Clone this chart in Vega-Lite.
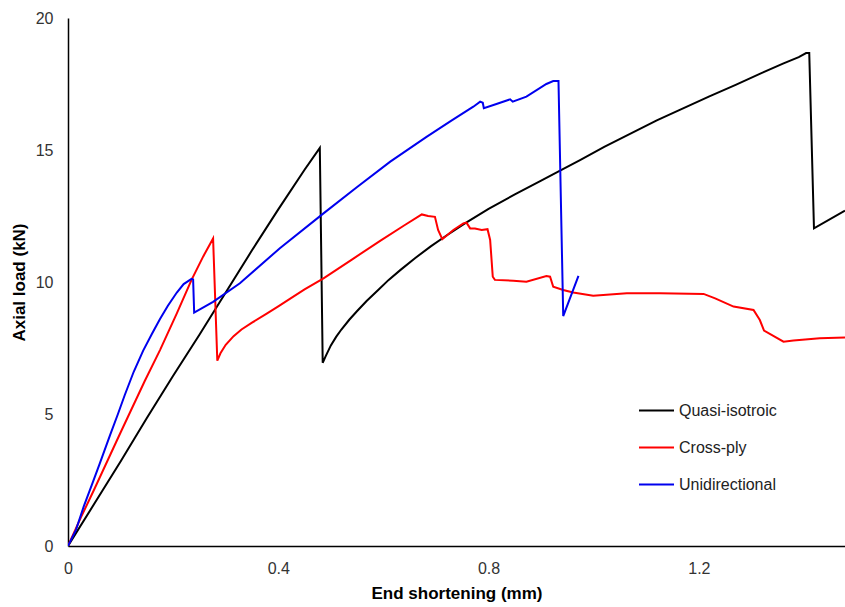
{
  "$schema": "https://vega.github.io/schema/vega-lite/v6.json",
  "width": 777,
  "height": 528,
  "autosize": {"type": "none"},
  "padding": {"left": 68, "top": 18, "right": 0, "bottom": 61},
  "background": "white",
  "config": {"view": {"stroke": null}, "font": "Liberation Sans"},
  "data": {
    "values": [
      {"series":"Quasi-isotroic","x":0,"y":0},{"series":"Quasi-isotroic","x":0.05,"y":1.6},{"series":"Quasi-isotroic","x":0.1,"y":3.2},{"series":"Quasi-isotroic","x":0.15,"y":4.85},{"series":"Quasi-isotroic","x":0.2,"y":6.45},{"series":"Quasi-isotroic","x":0.25,"y":8.0},{"series":"Quasi-isotroic","x":0.3,"y":9.6},{"series":"Quasi-isotroic","x":0.35,"y":11.2},{"series":"Quasi-isotroic","x":0.4,"y":12.75},{"series":"Quasi-isotroic","x":0.45,"y":14.25},{"series":"Quasi-isotroic","x":0.479,"y":15.08},
      {"series":"Quasi-isotroic","x":0.4845,"y":6.94},{"series":"Quasi-isotroic","x":0.49,"y":7.18},{"series":"Quasi-isotroic","x":0.5,"y":7.6},{"series":"Quasi-isotroic","x":0.51,"y":7.92},{"series":"Quasi-isotroic","x":0.52,"y":8.2},{"series":"Quasi-isotroic","x":0.535,"y":8.57},{"series":"Quasi-isotroic","x":0.55,"y":8.9},{"series":"Quasi-isotroic","x":0.568,"y":9.28},{"series":"Quasi-isotroic","x":0.59,"y":9.7},{"series":"Quasi-isotroic","x":0.61,"y":10.08},{"series":"Quasi-isotroic","x":0.632,"y":10.45},{"series":"Quasi-isotroic","x":0.66,"y":10.9},{"series":"Quasi-isotroic","x":0.69,"y":11.35},{"series":"Quasi-isotroic","x":0.72,"y":11.76},{"series":"Quasi-isotroic","x":0.755,"y":12.22},{"series":"Quasi-isotroic","x":0.8,"y":12.77},{"series":"Quasi-isotroic","x":0.85,"y":13.32},{"series":"Quasi-isotroic","x":0.9,"y":13.84},{"series":"Quasi-isotroic","x":0.936,"y":14.22},{"series":"Quasi-isotroic","x":0.974,"y":14.62},{"series":"Quasi-isotroic","x":1.02,"y":15.12},{"series":"Quasi-isotroic","x":1.07,"y":15.62},{"series":"Quasi-isotroic","x":1.12,"y":16.12},{"series":"Quasi-isotroic","x":1.17,"y":16.58},{"series":"Quasi-isotroic","x":1.22,"y":17.03},{"series":"Quasi-isotroic","x":1.27,"y":17.47},{"series":"Quasi-isotroic","x":1.32,"y":17.92},{"series":"Quasi-isotroic","x":1.36,"y":18.27},{"series":"Quasi-isotroic","x":1.39,"y":18.52},{"series":"Quasi-isotroic","x":1.404,"y":18.67},{"series":"Quasi-isotroic","x":1.41,"y":18.67},{"series":"Quasi-isotroic","x":1.419,"y":12.03},{"series":"Quasi-isotroic","x":1.478,"y":12.7},

      {"series":"Cross-ply","x":0,"y":0},{"series":"Cross-ply","x":0.025,"y":1.1},{"series":"Cross-ply","x":0.05,"y":2.15},{"series":"Cross-ply","x":0.1,"y":4.3},{"series":"Cross-ply","x":0.146,"y":6.25},{"series":"Cross-ply","x":0.175,"y":7.42},{"series":"Cross-ply","x":0.207,"y":8.81},{"series":"Cross-ply","x":0.235,"y":10.08},{"series":"Cross-ply","x":0.257,"y":10.96},{"series":"Cross-ply","x":0.276,"y":11.65},
      {"series":"Cross-ply","x":0.284,"y":7.02},{"series":"Cross-ply","x":0.29,"y":7.3},{"series":"Cross-ply","x":0.3,"y":7.62},{"series":"Cross-ply","x":0.315,"y":7.95},{"series":"Cross-ply","x":0.33,"y":8.2},{"series":"Cross-ply","x":0.35,"y":8.46},{"series":"Cross-ply","x":0.378,"y":8.8},{"series":"Cross-ply","x":0.4,"y":9.08},{"series":"Cross-ply","x":0.422,"y":9.36},{"series":"Cross-ply","x":0.45,"y":9.72},{"series":"Cross-ply","x":0.486,"y":10.14},{"series":"Cross-ply","x":0.54,"y":10.85},{"series":"Cross-ply","x":0.593,"y":11.55},{"series":"Cross-ply","x":0.64,"y":12.15},{"series":"Cross-ply","x":0.673,"y":12.56},{"series":"Cross-ply","x":0.685,"y":12.5},{"series":"Cross-ply","x":0.698,"y":12.47},{"series":"Cross-ply","x":0.704,"y":11.97},{"series":"Cross-ply","x":0.712,"y":11.62},{"series":"Cross-ply","x":0.733,"y":11.97},{"series":"Cross-ply","x":0.752,"y":12.22},{"series":"Cross-ply","x":0.758,"y":12.25},{"series":"Cross-ply","x":0.765,"y":12.03},{"series":"Cross-ply","x":0.774,"y":12.03},{"series":"Cross-ply","x":0.787,"y":11.97},{"series":"Cross-ply","x":0.798,"y":12.0},{"series":"Cross-ply","x":0.803,"y":11.59},{"series":"Cross-ply","x":0.808,"y":10.2},{"series":"Cross-ply","x":0.812,"y":10.08},{"series":"Cross-ply","x":0.847,"y":10.05},{"series":"Cross-ply","x":0.872,"y":10.01},{"series":"Cross-ply","x":0.91,"y":10.23},{"series":"Cross-ply","x":0.917,"y":10.2},{"series":"Cross-ply","x":0.923,"y":9.82},{"series":"Cross-ply","x":0.942,"y":9.7},{"series":"Cross-ply","x":0.961,"y":9.6},{"series":"Cross-ply","x":0.999,"y":9.48},{"series":"Cross-ply","x":1.063,"y":9.57},{"series":"Cross-ply","x":1.126,"y":9.57},{"series":"Cross-ply","x":1.209,"y":9.55},{"series":"Cross-ply","x":1.231,"y":9.38},{"series":"Cross-ply","x":1.266,"y":9.07},{"series":"Cross-ply","x":1.304,"y":8.94},{"series":"Cross-ply","x":1.316,"y":8.56},{"series":"Cross-ply","x":1.324,"y":8.16},{"series":"Cross-ply","x":1.361,"y":7.74},{"series":"Cross-ply","x":1.38,"y":7.78},{"series":"Cross-ply","x":1.43,"y":7.87},{"series":"Cross-ply","x":1.478,"y":7.9},

      {"series":"Unidirectional","x":0,"y":0},{"series":"Unidirectional","x":0.015,"y":0.6},{"series":"Unidirectional","x":0.03,"y":1.5},{"series":"Unidirectional","x":0.045,"y":2.3},{"series":"Unidirectional","x":0.06,"y":3.1},{"series":"Unidirectional","x":0.08,"y":4.2},{"series":"Unidirectional","x":0.095,"y":5.0},{"series":"Unidirectional","x":0.108,"y":5.72},{"series":"Unidirectional","x":0.125,"y":6.6},{"series":"Unidirectional","x":0.143,"y":7.4},{"series":"Unidirectional","x":0.16,"y":8.05},{"series":"Unidirectional","x":0.175,"y":8.6},{"series":"Unidirectional","x":0.19,"y":9.1},{"series":"Unidirectional","x":0.207,"y":9.6},{"series":"Unidirectional","x":0.22,"y":9.92},{"series":"Unidirectional","x":0.235,"y":10.12},{"series":"Unidirectional","x":0.238,"y":10.1},{"series":"Unidirectional","x":0.24,"y":8.84},{"series":"Unidirectional","x":0.276,"y":9.25},{"series":"Unidirectional","x":0.327,"y":9.95},{"series":"Unidirectional","x":0.403,"y":11.28},{"series":"Unidirectional","x":0.486,"y":12.6},{"series":"Unidirectional","x":0.55,"y":13.6},{"series":"Unidirectional","x":0.613,"y":14.56},{"series":"Unidirectional","x":0.682,"y":15.5},{"series":"Unidirectional","x":0.73,"y":16.12},{"series":"Unidirectional","x":0.771,"y":16.64},{"series":"Unidirectional","x":0.784,"y":16.83},{"series":"Unidirectional","x":0.789,"y":16.79},{"series":"Unidirectional","x":0.791,"y":16.58},{"series":"Unidirectional","x":0.815,"y":16.74},{"series":"Unidirectional","x":0.841,"y":16.92},{"series":"Unidirectional","x":0.846,"y":16.83},{"series":"Unidirectional","x":0.872,"y":17.02},{"series":"Unidirectional","x":0.91,"y":17.5},{"series":"Unidirectional","x":0.923,"y":17.61},{"series":"Unidirectional","x":0.933,"y":17.61},{"series":"Unidirectional","x":0.942,"y":8.71},{"series":"Unidirectional","x":0.971,"y":10.23}
    ]
  },
  "mark": {"type": "line", "strokeWidth": 2, "clip": true},
  "encoding": {
    "x": {
      "field": "x", "type": "quantitative",
      "scale": {"domain": [0, 1.478], "nice": false, "zero": true},
      "axis": {
        "values": [0, 0.4, 0.8, 1.2], "format": ".1~f", "grid": false, "ticks": false,
        "labelFlush": false,
        "domainColor": "#000000", "domainWidth": 1.5,
        "labelFontSize": 16, "labelColor": "#333333", "labelPadding": 14,
        "title": "End shortening (mm)", "titleFontSize": 17, "titleFontWeight": "bold",
        "titleColor": "#000000", "titlePadding": 9
      }
    },
    "y": {
      "field": "y", "type": "quantitative",
      "scale": {"domain": [0, 20], "nice": false},
      "axis": {
        "values": [0, 5, 10, 15, 20], "grid": false, "ticks": false,
        "labelFlush": false,
        "domainColor": "#000000", "domainWidth": 1.5,
        "labelFontSize": 16, "labelColor": "#333333", "labelPadding": 15,
        "title": "Axial load (kN)", "titleFontSize": 17, "titleFontWeight": "bold",
        "titleColor": "#000000", "titlePadding": 7
      }
    },
    "color": {
      "field": "series", "type": "nominal",
      "scale": {"domain": ["Quasi-isotroic", "Cross-ply", "Unidirectional"], "range": ["#000000", "#ff0000", "#0000ee"]},
      "legend": {
        "orient": "none", "legendX": 570, "legendY": 374, "title": null,
        "symbolType": "stroke", "symbolSize": 1225, "symbolStrokeWidth": 2,
        "labelFontSize": 16, "labelColor": "#222222", "labelOffset": 4, "rowPadding": 10
      }
    }
  }
}
